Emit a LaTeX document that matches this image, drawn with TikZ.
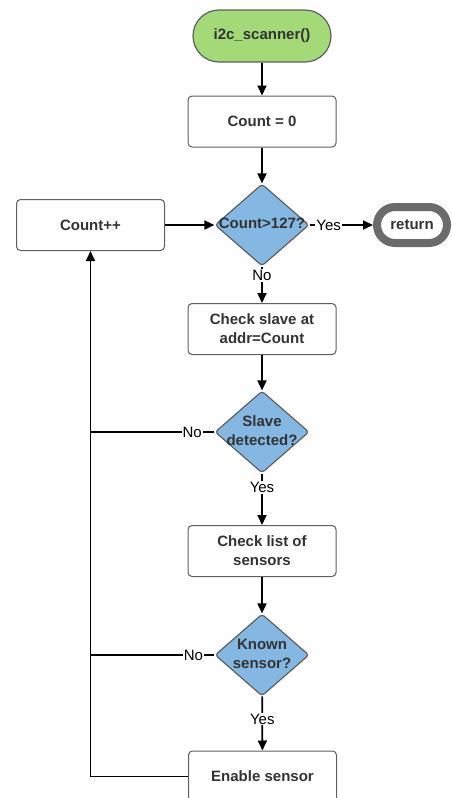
\documentclass[tikz,border=0pt]{standalone}
\usepackage{fontspec}
\setmainfont{Liberation Sans}
\usetikzlibrary{shapes.geometric,arrows.meta}
\definecolor{startgreen}{HTML}{A3D977}
\definecolor{decblue}{HTML}{84B8E3}
\definecolor{edgegray}{HTML}{5F5F5F}
\definecolor{txtgray}{HTML}{333333}
\definecolor{retgray}{HTML}{6B6B6B}
\newcommand\chartfont{\fontsize{15}{19}\selectfont}
\newcommand\dtxt[1]{\makebox[0pt]{\begin{tabular}{@{}c@{}}#1\end{tabular}}}
\begin{document}
\begin{tikzpicture}[x=1pt,y=-1pt,
  every node/.style={font=\chartfont, text=txtgray},
  term/.style={draw=edgegray, line width=1.2pt, fill=startgreen,
    rounded corners=26pt, minimum width=138pt, minimum height=52pt,
    font=\bfseries\chartfont},
  endterm/.style={draw=retgray, line width=8pt, fill=white,
    rounded corners=18pt, minimum width=70pt, minimum height=36pt,
    inner sep=0pt, font=\bfseries\chartfont},
  proc/.style={draw=edgegray, line width=1pt, fill=white,
    rounded corners=4pt, minimum width=148pt, minimum height=51pt,
    align=center, font=\bfseries\chartfont},
  dec/.style={diamond, draw=edgegray, line width=1.2pt, fill=decblue,
    rounded corners=3pt, minimum width=94pt, minimum height=82pt,
    inner sep=0pt, font=\bfseries\chartfont},
  lbl/.style={fill=white, inner sep=1pt, text=black, font=\chartfont},
  flow/.style={line width=1.8pt, -{Triangle[length=10pt,width=9pt]}},
  link/.style={line width=1.8pt}
]
\useasboundingbox (0,0) rectangle (452,798);

% nodes
\node[term] (start) at (262,36) {i2c\_scanner()};
\node[proc] (init) at (262,121.5) {Count = 0};
\node[dec] (full) at (262,225) {\dtxt{Count>127?}};
\node[proc] (inc) at (90.5,225) {Count++};
\node[endterm] (ret) at (412,225) {return};
\node[proc] (probe) at (262,329) {Check slave at\\addr=Count};
\node[dec] (found) at (262,432) {\dtxt{Slave\\detected?}};
\node[proc] (list) at (262,551) {Check list of\\sensors};
\node[dec] (known) at (262,655) {\dtxt{Known\\sensor?}};
\node[proc] (enable) at (262.5,776.5) {Enable sensor};

\coordinate (busB) at (90.5,432);
\coordinate (busC) at (90.5,655);
\coordinate (busD) at (90.5,776.5);

% connectors
\draw[flow] (start) -- (init);
\draw[flow] (init) -- (full);
\draw[flow] (inc) -- (full);
\draw[flow] (full) -- node[lbl,pos=0.3]{Yes} (ret);
\draw[flow] (full) -- node[lbl,pos=0.25]{No} (probe);
\draw[flow] (probe) -- (found);
\draw[link] (found) -- node[lbl,pos=0.18]{No} (busB);
\draw[flow] (found) -- node[lbl,pos=0.27]{Yes} (list);
\draw[flow] (list) -- (known);
\draw[link] (known) -- node[lbl,pos=0.17]{No} (busC);
\draw[flow] (known) -- node[lbl,pos=0.42]{Yes} (enable);
\draw[flow] (enable.west) -- (busD) -- (inc.south);
\end{tikzpicture}
\end{document}
